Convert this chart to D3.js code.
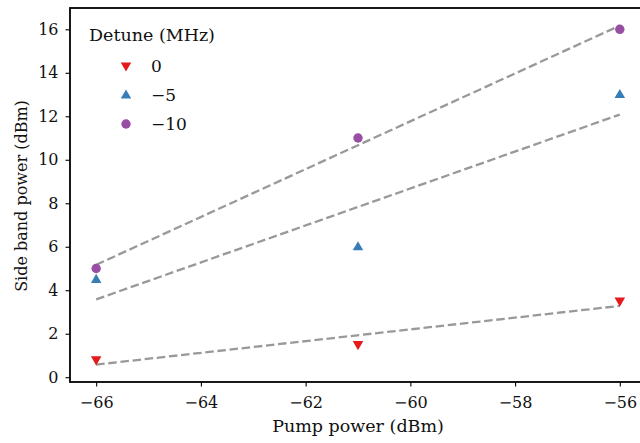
<!DOCTYPE html>
<html>
<head>
<meta charset="utf-8">
<script src="https://cdn.jsdelivr.net/npm/d3@7"></script>
<style>
  html, body { margin: 0; padding: 0; background: #fff; overflow: hidden; }
  svg { display: block; }
  svg text { font-family: 'DejaVu Serif' !important; }
</style>
</head>
<body>
<svg id="chart" width="640" height="443"></svg>
<script>
// Pump power sweep (dBm)
const pumpPower = [-66, -61, -56];

// Measured side band power (dBm) per detuning
const detuneLabels = ["0", "\u22125", "\u221210"];
const sideband0 = [0.8, 1.5, 3.5];
const sidebandM5 = [4.5, 6.0, 13.0];
const sidebandM10 = [5.0, 11.0, 16.0];

// Linear fit end values at -66 and -56 dBm
const fitStart = [0.58, 3.58, 5.17];
const fitEnd = [3.28, 12.08, 16.17];
const fitX = [-66, -56];

const xTicks = [-66, -64, -62, -60, -58, -56];
const yTicks = [0, 2, 4, 6, 8, 10, 12, 14, 16];

const colors = ["#e41a1c", "#377eb8", "#984ea3"];
const series = [sideband0, sidebandM5, sidebandM10];
const shapes = ["down", "up", "circle"];

const svg = d3.select("#chart");
const margin = { left: 70, top: 8, right: 646, bottom: 382 };

const x = d3.scaleLinear().domain([-66.5, -55.5]).range([margin.left, margin.right]);
const y = d3.scaleLinear().domain([-0.22, 16.98]).range([margin.bottom, margin.top]);

// Fit lines
const line = d3.line().x(d => x(d[0])).y(d => y(d[1]));
fitStart.forEach((s, i) => {
  svg.append("path")
    .attr("d", line([[fitX[0], s], [fitX[1], fitEnd[i]]]))
    .attr("fill", "none")
    .attr("stroke", "#999999")
    .attr("stroke-width", 2.3)
    .attr("stroke-dasharray", "8.5,3.7");
});

function marker(g, shape, color, cx, cy) {
  if (shape === "circle") {
    g.append("circle").attr("cx", cx).attr("cy", cy).attr("r", 4.7).attr("fill", color);
  } else {
    const sym = d3.symbol().type(d3.symbolTriangle).size(48);
    g.append("path")
      .attr("d", sym())
      .attr("transform", `translate(${cx},${cy + (shape === "down" ? -0.5 : 0.5)}) rotate(${shape === "down" ? 180 : 0})`)
      .attr("fill", color);
  }
}

// Data points
series.forEach((vals, i) => {
  const g = svg.append("g");
  vals.forEach((v, j) => marker(g, shapes[i], colors[i], x(pumpPower[j]), y(v)));
});

// Axes
const xAxis = d3.axisBottom(x).tickValues(xTicks).tickSize(4.5).tickPadding(10)
  .tickFormat(d => d < 0 ? "\u2212" + Math.abs(d) : d);
const yAxis = d3.axisLeft(y).tickValues(yTicks).tickSize(4.5).tickPadding(7);

const gx = svg.append("g").attr("transform", `translate(0,${margin.bottom})`).call(xAxis);
const gy = svg.append("g").attr("transform", `translate(${margin.left},0)`).call(yAxis);
[gx, gy].forEach(g => {
  g.attr("font-size", 16);
  g.select(".domain").remove();
  g.selectAll(".tick line").attr("stroke", "#000").attr("stroke-width", 1.1);
  g.selectAll(".tick text").attr("fill", "#111");
});

// Frame
svg.append("rect")
  .attr("x", margin.left).attr("y", margin.top)
  .attr("width", margin.right - margin.left).attr("height", margin.bottom - margin.top)
  .attr("fill", "none").attr("stroke", "#000").attr("stroke-width", 1.8);

// Axis titles
svg.append("text").attr("x", 358).attr("y", 432).attr("text-anchor", "middle")
  .attr("font-size", 17.5).attr("fill", "#111").text("Pump power (dBm)");
svg.append("text").attr("transform", "translate(27,196) rotate(-90)")
  .attr("text-anchor", "middle").attr("font-size", 16).attr("fill", "#111").text("Side band power (dBm)");

// Legend
const lg = svg.append("g");
lg.append("text").attr("x", 89).attr("y", 41).attr("font-size", 17.5).attr("fill", "#111").text("Detune (MHz)");
detuneLabels.forEach((lab, i) => {
  const cy = 66 + i * 29;
  marker(lg, shapes[i], colors[i], 126, cy);
  lg.append("text").attr("x", 151).attr("y", cy + 6).attr("font-size", 17).attr("fill", "#111").text(lab);
});
</script>
</body>
</html>
